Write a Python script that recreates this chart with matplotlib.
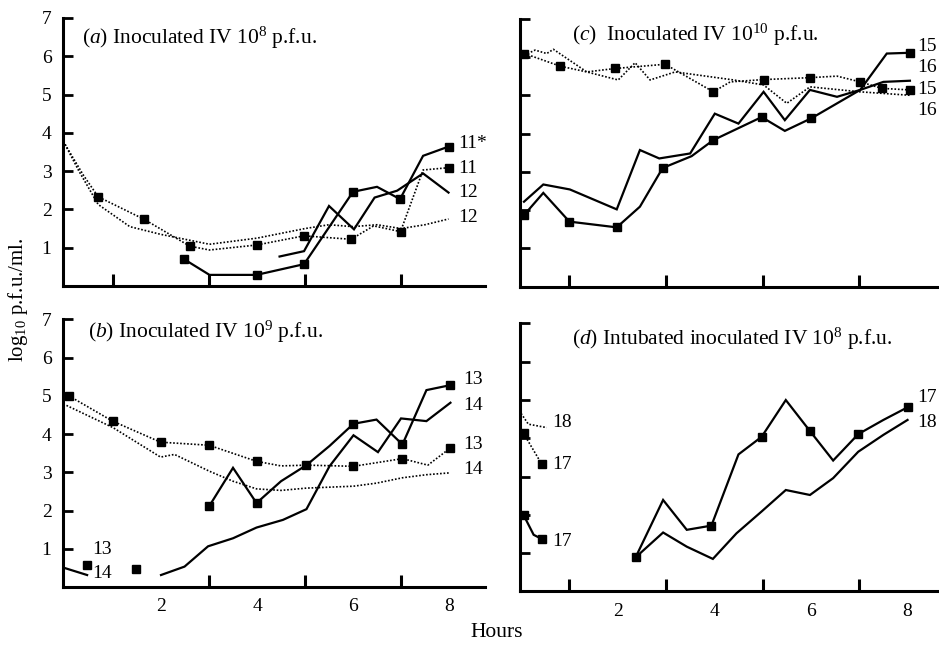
import matplotlib
matplotlib.use("Agg")
import matplotlib.pyplot as plt

plt.rcParams['font.family'] = ['Liberation Serif', 'DejaVu Serif']
plt.rcParams['mathtext.fontset'] = 'custom'
plt.rcParams['mathtext.rm'] = 'Liberation Serif'
plt.rcParams['mathtext.it'] = 'Liberation Serif:italic'

# ---- panel (a): inoculated IV 10^8 pfu ----
a11s_t = [2.48, 3.01, 3.99, 4.98, 6.0, 6.5, 6.98, 7.46, 7.99]
a11s_v = [0.70, 0.29, 0.29, 0.57, 2.46, 2.59, 2.27, 3.4, 3.64]
a11s_mk = [0, 2, 3, 4, 6, 8]
a12s_t = [4.47, 4.98, 5.5, 6.02, 6.45, 6.92, 7.46, 7.99]
a12s_v = [0.77, 0.91, 2.09, 1.48, 2.31, 2.49, 2.94, 2.44]
a11d_t = [0, 0.38, 0.69, 1.65, 2.6, 3.01, 3.99, 4.98, 5.96, 6.43, 6.99, 7.46, 7.99]
a11d_v = [3.7, 2.9, 2.33, 1.74, 1.04, 0.94, 1.07, 1.31, 1.22, 1.57, 1.42, 3.03, 3.09]
a11d_mk = [2, 3, 4, 6, 7, 8, 10, 12]
a12d_t = [0, 0.29, 0.69, 1.35, 1.99, 3.01, 4.0, 5.0, 5.5, 6.0, 6.5, 7.0, 7.5, 7.99]
a12d_v = [3.7, 3.0, 2.13, 1.55, 1.35, 1.09, 1.25, 1.5, 1.6, 1.55, 1.6, 1.5, 1.6, 1.75]

# ---- panel (b): inoculated IV 10^9 pfu ----
b13early_t = [0.46, 1.47]
b13early_v = [0.57, 0.47]
b13s_t = [3.0, 3.5, 3.99, 4.5, 5.03, 5.51, 6.01, 6.49, 7.03, 7.53, 8.03]
b13s_v = [2.11, 3.12, 2.2, 2.77, 3.19, 3.69, 4.27, 4.38, 3.73, 5.15, 5.28]
b13s_mk = [0, 2, 6, 8, 10]
b14early_t = [0, 0.46]
b14early_v = [0.5, 0.32]
b14s_t = [2.0, 2.49, 2.98, 3.5, 3.99, 4.54, 5.03, 5.51, 6.01, 6.52, 7.0, 7.53, 8.03]
b14s_v = [0.32, 0.54, 1.07, 1.28, 1.56, 1.76, 2.04, 3.16, 3.97, 3.53, 4.41, 4.34, 4.82]
b13d_t = [0.08, 0.99, 1.99, 3.0, 3.99, 4.5, 5.03, 6.01, 7.03, 7.56, 8.03]
b13d_v = [5.0, 4.34, 3.79, 3.71, 3.29, 3.17, 3.19, 3.16, 3.36, 3.19, 3.64]
b13d_mk = [0, 1, 2, 3, 4, 6, 7, 8, 10]
b14d_t = [0.03, 1.0, 1.99, 2.28, 3.01, 3.5, 3.99, 4.5, 5.03, 6.01, 6.49, 7.03, 7.53, 8.03]
b14d_v = [4.75, 4.17, 3.4, 3.47, 3.03, 2.77, 2.57, 2.53, 2.59, 2.64, 2.72, 2.86, 2.94, 2.99]

# ---- panel (c): inoculated IV 10^10 pfu ----
c15s_t = [0.06, 0.46, 1.0, 1.98, 2.46, 2.93, 3.53, 3.98, 4.98, 5.46, 6.01, 7.02, 7.57, 8.05]
c15s_v = [1.87, 2.45, 1.70, 1.55, 2.09, 3.1, 3.41, 3.83, 4.43, 4.07, 4.4, 5.14, 6.09, 6.11]
c15s_mk = [0, 2, 3, 5, 7, 8, 10, 13]
c16s_t = [0.06, 0.46, 1.01, 1.98, 2.46, 2.86, 3.5, 4.01, 4.5, 5.02, 5.46, 5.98, 6.54, 7.02, 7.5, 8.05]
c16s_v = [2.22, 2.67, 2.54, 2.02, 3.57, 3.35, 3.48, 4.52, 4.26, 5.09, 4.35, 5.14, 4.96, 5.14, 5.35, 5.38]
c15d_t = [0.07, 0.81, 1.36, 1.95, 2.98, 3.26, 3.98, 4.33, 5.02, 5.98, 6.54, 7.02, 7.47, 8.05]
c15d_v = [6.09, 5.76, 5.61, 5.7, 5.81, 5.61, 5.09, 5.35, 5.41, 5.46, 5.5, 5.35, 5.18, 5.14]
c15d_mk = [0, 1, 3, 4, 6, 8, 9, 11, 12, 13]
c16d_t = [0.07, 0.29, 0.53, 0.67, 1.36, 2.01, 2.36, 2.67, 3.19, 4.4, 5.02, 5.5, 5.98, 7.02, 8.05]
c16d_v = [6.05, 6.18, 6.09, 6.2, 5.61, 5.4, 5.85, 5.4, 5.61, 5.4, 5.27, 4.79, 5.22, 5.09, 5.0]

# ---- panel (d): intubated inoculated IV 10^8 pfu ----
d17early_t = [0.05, 0.26, 0.43]
d17early_v = [2.0, 1.48, 1.37]
d17early_mk = [0, 2]
d17s_t = [2.37, 2.94, 3.43, 3.94, 4.5, 4.98, 5.48, 5.98, 6.46, 6.98, 7.5, 8.0]
d17s_v = [0.89, 2.39, 1.61, 1.72, 3.58, 4.04, 5.0, 4.19, 3.42, 4.11, 4.48, 4.81]
d17s_mk = [0, 3, 5, 7, 9, 11]
d18s_t = [2.37, 2.94, 3.43, 3.97, 4.46, 4.98, 5.48, 5.98, 6.46, 6.98, 7.5, 8.0]
d18s_v = [0.89, 1.54, 1.17, 0.85, 1.52, 2.09, 2.65, 2.52, 2.96, 3.65, 4.09, 4.48]
d17d_t = [0.05, 0.43]
d17d_v = [4.13, 3.32]
d18d_t = [0.0, 0.15, 0.53]
d18d_v = [4.65, 4.37, 4.28]

ytick_vals = [1, 2, 3, 4, 5, 6, 7]
xtick_labels = ['2', '4', '6', '8']

SOLID = dict(color='black', lw=1.6, ls='-', solid_joinstyle='miter')
DOT = dict(color='black', lw=1.2, ls=(0, (1, 1.1)))
MK = dict(marker='s', ms=6, mfc='black', mec='black')


def style_axes(ax, left_labels, bottom_labels, xlim, minor_x):
    ax.set_xlim(*xlim)
    ax.set_ylim(0, 7)
    for s in ['top', 'right']:
        ax.spines[s].set_visible(False)
    for s in ['left', 'bottom']:
        ax.spines[s].set_linewidth(2.2)
    ax.set_yticks(ytick_vals)
    ax.set_yticklabels([str(v) for v in ytick_vals] if left_labels else [])
    ax.tick_params(axis='y', direction='in', length=7, width=2, labelsize=14, pad=8)
    ax.set_xticks([2, 4, 6, 8])
    ax.set_xticklabels(xtick_labels if bottom_labels else [])
    ax.set_xticks(minor_x, minor=True)
    ax.tick_params(axis='x', which='major', length=0, labelsize=14, pad=8)
    ax.tick_params(axis='x', which='minor', direction='in', length=9, width=2.2)


def lab(ax, x, y, s):
    ax.text(x, y, s, fontsize=14, va='center', ha='left')


fig = plt.figure(figsize=(9.39, 6.45), dpi=100)
ax_a = fig.add_axes([0.0667, 0.5566, 0.4498, 0.4155])
ax_b = fig.add_axes([0.0667, 0.0895, 0.4498, 0.4155])
ax_c = fig.add_axes([0.5534, 0.5555, 0.4491, 0.4155])
ax_d = fig.add_axes([0.5534, 0.0830, 0.4491, 0.4155])

# (a)
style_axes(ax_a, True, False, (-0.05, 8.75), [1, 2, 3, 4, 5, 6, 7, 8])
ax_a.plot(a11s_t, a11s_v, markevery=a11s_mk, **SOLID, **MK)
ax_a.plot(a12s_t, a12s_v, **SOLID)
ax_a.plot(a11d_t, a11d_v, markevery=a11d_mk, **DOT, **MK)
ax_a.plot(a12d_t, a12d_v, **DOT)
ax_a.text(0.35, 6.47, r'($\mathit{a}$) Inoculated IV 10$^{8}$ p.f.u.', fontsize=15.5, va='center')
lab(ax_a, 8.2, 3.73, '11*')
lab(ax_a, 8.2, 3.08, '11')
lab(ax_a, 8.2, 2.45, '12')
lab(ax_a, 8.2, 1.8, '12')

# (b)
style_axes(ax_b, True, True, (-0.05, 8.75), [3, 4, 5, 6, 7, 8])
ax_b.plot(b13early_t, b13early_v, ls='none', **MK)
ax_b.plot(b13s_t, b13s_v, markevery=b13s_mk, **SOLID, **MK)
ax_b.plot(b14early_t, b14early_v, **SOLID)
ax_b.plot(b14s_t, b14s_v, **SOLID)
ax_b.plot(b13d_t, b13d_v, markevery=b13d_mk, **DOT, **MK)
ax_b.plot(b14d_t, b14d_v, **DOT)
ax_b.text(0.47, 6.66, r'($\mathit{b}$) Inoculated IV 10$^{9}$ p.f.u.', fontsize=15.5, va='center')
lab(ax_b, 8.3, 5.43, '13')
lab(ax_b, 8.3, 4.75, '14')
lab(ax_b, 8.3, 3.73, '13')
lab(ax_b, 8.3, 3.07, '14')
lab(ax_b, 0.56, 0.98, '13')
lab(ax_b, 0.56, 0.35, '14')

# (c)
style_axes(ax_c, False, False, (-0.03, 8.7), [1, 2, 3, 4, 5, 6, 7, 8])
ax_c.plot(c15s_t, c15s_v, markevery=c15s_mk, **SOLID, **MK)
ax_c.plot(c16s_t, c16s_v, **SOLID)
ax_c.plot(c15d_t, c15d_v, markevery=c15d_mk, **DOT, **MK)
ax_c.plot(c16d_t, c16d_v, **DOT)
ax_c.text(1.05, 6.59, r'($\mathit{c}$)  Inoculated IV 10$^{10}$ p.f.u.', fontsize=15.5, va='center')
lab(ax_c, 8.2, 6.27, '15')
lab(ax_c, 8.2, 5.73, '16')
lab(ax_c, 8.2, 5.15, '15')
lab(ax_c, 8.2, 4.61, '16')

# (d)
style_axes(ax_d, False, True, (-0.03, 8.7), [1, 2, 3, 4, 5, 6, 7, 8])
ax_d.plot(d17early_t, d17early_v, markevery=d17early_mk, **SOLID, **MK)
ax_d.plot(d17d_t, d17d_v, **DOT, **MK)
ax_d.plot(d18d_t, d18d_v, **DOT)
ax_d.plot(d17s_t, d17s_v, markevery=d17s_mk, **SOLID, **MK)
ax_d.plot(d18s_t, d18s_v, **SOLID)
ax_d.text(1.05, 6.59, r'($\mathit{d}$) Intubated inoculated IV 10$^{8}$ p.f.u.', fontsize=15.5, va='center')
lab(ax_d, 8.2, 5.06, '17')
lab(ax_d, 8.2, 4.41, '18')
lab(ax_d, 0.64, 4.41, '18')
lab(ax_d, 0.64, 3.31, '17')
lab(ax_d, 0.64, 1.3, '17')

for ax in [ax_a, ax_b, ax_c, ax_d]:
    for ln in ax.lines:
        ln.set_clip_on(False)

fig.text(0.019, 0.535, r'log$_{10}$ p.f.u./ml.', rotation=90, fontsize=15, ha='center', va='center')
fig.text(0.529, 0.019, 'Hours', fontsize=15.5, ha='center', va='center')

fig.savefig('out.png', dpi=100)
